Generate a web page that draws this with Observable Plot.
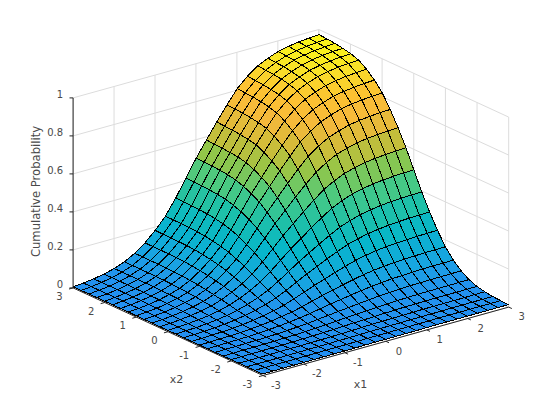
<!DOCTYPE html>
<html>
<head>
<meta charset="utf-8">
<style>html,body{margin:0;padding:0;background:#fff}svg{display:block}</style>
<script src="https://cdn.jsdelivr.net/npm/d3@7"></script>
<script src="https://cdn.jsdelivr.net/npm/@observablehq/plot@0.6"></script>
</head>
<body>
<div id="chart"></div>
<script>
const x1Grid = [-3,-2.75,-2.5,-2.25,-2,-1.75,-1.5,-1.25,-1,-0.75,-0.5,-0.25,0,0.25,0.5,0.75,1,1.25,1.5,1.75,2,2.25,2.5,2.75,3];
const x2Grid = [-3,-2.75,-2.5,-2.25,-2,-1.75,-1.5,-1.25,-1,-0.75,-0.5,-0.25,0,0.25,0.5,0.75,1,1.25,1.5,1.75,2,2.25,2.5,2.75,3];
const x1Ticks = [-3,-2,-1,0,1,2,3];
const x2Ticks = [-3,-2,-1,0,1,2,3];
const zTicks = [0,0.2,0.4,0.6,0.8,1];
// probability in thousandths: one row per x2 value, one column per x1 value
const perMille = [
[0,0,0,0,0,0,0,0,0,0,1,1,1,1,1,1,2,2,2,2,2,2,2,2,2],
[0,0,0,0,0,0,0,1,1,1,1,2,2,2,3,3,3,3,4,4,4,4,4,4,4],
[0,0,0,0,0,0,1,1,1,2,2,3,4,4,5,5,6,6,6,6,7,7,7,7,7],
[0,0,0,0,1,1,1,2,2,3,4,5,7,8,9,10,10,11,12,12,12,12,12,13,13],
[0,0,0,1,1,1,2,3,4,6,7,9,12,13,15,17,19,20,21,21,22,22,22,22,22],
[0,0,1,1,2,2,4,5,7,10,13,16,20,23,26,29,32,34,36,37,38,38,38,39,39],
[0,1,1,2,3,4,6,9,12,16,22,28,34,39,45,50,55,58,61,63,64,65,65,66,66],
[0,1,2,3,4,6,10,14,19,26,34,44,54,62,71,79,86,91,96,98,101,102,103,103,104],
[1,1,3,4,6,10,14,21,29,38,51,66,80,93,106,118,129,137,143,147,150,152,154,154,155],
[1,2,4,6,9,14,21,30,41,55,74,94,115,133,152,169,185,197,206,212,216,219,221,222,223],
[1,3,5,8,12,19,28,40,56,74,99,127,155,180,205,228,250,265,277,285,291,295,298,299,300],
[2,4,6,10,16,24,36,52,72,96,128,164,200,232,264,294,322,342,358,368,376,381,384,386,387],
[2,5,8,13,20,30,45,65,90,120,160,205,250,290,330,368,403,428,448,460,470,476,480,483,484],
[2,5,10,16,24,36,54,78,108,144,192,246,300,348,396,441,483,513,537,552,564,571,576,579,581],
[3,6,11,18,28,41,62,90,124,166,221,283,345,400,455,507,555,590,618,635,649,657,662,666,668],
[3,7,12,20,31,46,69,100,139,185,246,316,385,447,508,566,620,658,689,708,724,733,739,743,745],
[3,8,13,22,34,50,76,109,151,202,269,344,420,487,554,617,676,718,752,773,790,800,806,811,813],
[4,8,14,23,36,53,80,116,160,214,285,365,445,516,587,654,716,761,797,819,837,847,854,859,862],
[4,8,15,24,37,56,84,121,167,223,298,381,465,539,614,684,749,795,832,856,874,885,893,897,900],
[4,9,15,25,38,58,86,125,173,230,307,394,480,557,634,706,773,821,859,883,902,914,922,926,929],
[4,9,16,25,39,59,88,127,176,234,312,400,488,566,644,717,785,834,873,897,917,928,936,941,944],
[4,9,16,26,39,59,89,128,177,236,315,404,493,571,650,724,793,842,882,906,926,938,946,951,953],
[4,9,16,26,40,60,89,129,179,238,317,407,496,575,655,729,799,848,888,913,932,944,952,957,960],
[4,9,16,26,40,60,90,129,179,239,319,408,498,578,657,732,802,852,891,916,936,948,956,961,964],
[4,9,16,26,40,60,90,130,180,240,320,410,500,580,660,735,805,855,895,920,940,952,960,965,968]
];
const colorStops = [0,0.05,0.1,0.2,0.3,0.4,0.5,0.6,0.7,0.8,0.9,0.96];
const colorValues = ["#248ff0","#2098ea","#17a6e0","#06b6ca","#1ec0a8","#4cca80","#93c648","#d0bc38","#f5b93c","#fcc132","#f8e228","#faf41a"];

// Orthographic view: screen position of the (-3,-3,0) corner and screen
// displacement per data unit along each axis, for the surface and for the box.
const surfaceView = {ox:262, oy:373.5, x1:[41,-11.5], x2:[-31.55,-14.4], z:[0,-190]};
const boxView = {ox:262.5, oy:375, x1:[40.95,-11.4], x2:[-31.65,-14.6], z:[0,-190]};
const project = (view,a,b,c) => ({
  px: view.ox + (a+3)*view.x1[0] + (b+3)*view.x2[0] + c*view.z[0],
  py: view.oy + (a+3)*view.x1[1] + (b+3)*view.x2[1] + c*view.z[1]
});
const pt = (a,b,c) => project(boxView,a,b,c);

// surface faces, back to front; each face takes the value of its lowest vertex
const faces = [];
let id = 0;
for (let s = (x1Grid.length-2)+(x2Grid.length-2); s >= 0; s--) {
  for (let i = 0; i < x1Grid.length-1; i++) {
    const j = s - i;
    if (j < 0 || j >= x2Grid.length-1) continue;
    const v = perMille[j][i]/1000;
    for (const [ii,jj] of [[i,j],[i+1,j],[i+1,j+1],[i,j+1]]) {
      faces.push({id, v, ...project(surfaceView, x1Grid[ii], x2Grid[jj], perMille[jj][ii]/1000)});
    }
    id++;
  }
}
const seg = (p,q) => ({x1:p.px,y1:p.py,x2:q.px,y2:q.py});
const grid = [];
for (const t of x1Ticks) {
  grid.push(seg(pt(t,3,0),pt(t,3,1)));
  grid.push(seg(pt(t,-3,0),pt(t,3,0)));
}
for (const t of x2Ticks) {
  grid.push(seg(pt(3,t,0),pt(3,t,1)));
  grid.push(seg(pt(-3,t,0),pt(3,t,0)));
}
for (const t of zTicks) {
  grid.push(seg(pt(-3,3,t),pt(3,3,t)));
  grid.push(seg(pt(3,3,t),pt(3,-3,t)));
}
const axes = [
  seg(pt(-3,3,0),pt(-3,3,1)),
  seg(pt(-3,3,0),pt(-3,-3,0)),
  seg(pt(-3,-3,0),pt(3,-3,0)),
  ...zTicks.map(t => seg(pt(-3,3,t),{px:pt(-3,3,t).px-3.6,py:pt(-3,3,t).py})),
  ...x2Ticks.map(t => seg(pt(-3,t,0),pt(-3.1,t,0))),
  ...x1Ticks.map(t => seg(pt(t,-3,0),pt(t,-3.1,0)))
];
const font = "DejaVu Sans";
const ink = "#4a4a4a";
const seg4 = {x1:"x1",y1:"y1",x2:"x2",y2:"y2"};
const chart = Plot.plot({
  width:560, height:420,
  margin:0,
  x:{domain:[0,560], range:[0,560], axis:null},
  y:{domain:[0,420], range:[0,420], axis:null},
  color:{type:"linear", domain:colorStops, range:colorValues},
  marks:[
    Plot.link(grid,{...seg4, stroke:"#dcdcdc", strokeWidth:1}),
    Plot.line(faces,{x:"px",y:"py",z:"id",fill:"v",stroke:"#000",strokeWidth:1,curve:"linear-closed",shapeRendering:"crispEdges"}),
    Plot.link(axes,{...seg4, stroke:"#262626", strokeWidth:1}),
    Plot.text(zTicks,{x:t=>pt(-3,3,t).px-10,y:t=>pt(-3,3,t).py-3,text:t=>String(t),textAnchor:"end",fontFamily:font,fontSize:10,fill:ink}),
    Plot.text(x2Ticks,{x:t=>pt(-3,t,0).px-10.5,y:t=>pt(-3,t,0).py+9,text:t=>String(t),textAnchor:"end",fontFamily:font,fontSize:10,fill:ink}),
    Plot.text(x1Ticks,{x:t=>pt(t,-3,0).px+13,y:t=>pt(t,-3,0).py+10,text:t=>String(t),textAnchor:"middle",fontFamily:font,fontSize:10,fill:ink}),
    Plot.text(["x2"],{x:()=>176,y:()=>379,text:d=>d,fontFamily:font,fontSize:11,fill:ink}),
    Plot.text(["x1"],{x:()=>360,y:()=>384,text:d=>d,fontFamily:font,fontSize:11,fill:ink}),
    Plot.text(["Cumulative Probability"],{x:()=>36,y:()=>191,text:d=>d,rotate:-90,fontFamily:font,fontSize:11.6,fill:ink})
  ]
});
document.getElementById("chart").appendChild(chart);
</script>
</body>
</html>
